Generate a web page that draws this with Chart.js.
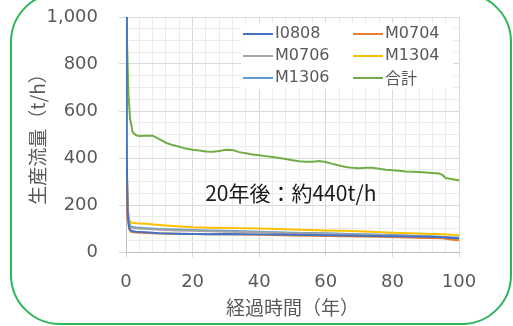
<!DOCTYPE html>
<html>
<head>
<meta charset="utf-8">
<script src="https://cdn.jsdelivr.net/npm/chart.js@4.4.1/dist/chart.umd.min.js"></script>
<style>
  html, body { margin: 0; padding: 0; background: #fff; overflow: hidden; }
  #wrap { position: relative; width: 513px; height: 326px; }
  #frame {
    position: absolute; left: 10px; top: -8px; width: 502px; height: 333px;
    box-sizing: border-box; border: 2px solid #2db75b; border-radius: 50px;
  }
  #myChart { position: absolute; left: 0; top: 0; }
</style>
</head>
<body>
<div id="wrap">
  <div id="frame"></div>
  <canvas id="myChart" width="513" height="326"></canvas>
</div>
<script>
// ===== Daten =====
const SERIES_NAMES = ['I0808', 'M0704', 'M0706', 'M1304', 'M1306', '合計'];
const SERIES_COLORS = ['#4472c4', '#ed7d31', '#a5a5a5', '#ffc000', '#5b9bd5', '#70ad47'];

// Jahre für die Einzelbrunnen
const years = [0, 0.2, 0.5, 1, 1.5, 3, 6, 10, 15, 20, 25, 30, 35, 40, 45, 50, 55, 60, 65, 70, 75, 80, 85, 90, 95, 98, 100];
const i0808 = [1200, 420, 160, 100, 90, 86, 84, 80, 78, 77, 76, 77, 76, 75, 74, 73, 72, 71, 70, 69, 68, 67, 66, 65, 63, 60, 58];
const m0704 = [450, 300, 140, 95, 86, 83, 81, 79, 78, 77, 76, 75, 74, 73, 72, 70, 69, 68, 67, 66, 65, 64, 62, 60, 58, 52, 50];
const m0706 = [700, 340, 170, 115, 103, 100, 98, 95, 92, 90, 88, 86, 85, 84, 82, 80, 79, 78, 76, 74, 72, 70, 68, 66, 63, 60, 58];
const m1304 = [600, 380, 190, 135, 125, 122, 120, 115, 110, 105, 103, 102, 101, 100, 98, 96, 94, 92, 90, 88, 85, 82, 80, 78, 76, 73, 72];
const m1306 = [1000, 400, 180, 120, 108, 104, 101, 98, 96, 94, 92, 90, 88, 86, 84, 82, 81, 80, 78, 76, 74, 72, 70, 68, 65, 62, 62];

// Summe (eigene Stützstellen)
const totalYears = [0, 0.3, 0.7, 1.2, 2, 3, 4, 6, 8, 10, 12, 14, 16, 18, 20, 22, 24, 26, 28, 30, 32, 34, 36, 38, 40, 42, 44, 46, 48, 50, 52, 54, 56, 58, 60, 62, 64, 66, 68, 70, 72, 74, 76, 78, 80, 82, 84, 86, 88, 90, 92, 94, 95, 96, 98, 100];
const total = [1400, 900, 680, 570, 510, 497, 494, 495, 495, 480, 465, 455, 448, 440, 435, 432, 428, 427, 430, 435, 434, 425, 420, 415, 412, 408, 404, 400, 396, 390, 386, 384, 384, 387, 383, 375, 368, 362, 358, 356, 358, 358, 354, 350, 348, 346, 343, 342, 340, 338, 336, 334, 328, 315, 310, 305];

const NOTE_TEXT = '20年後：約440t/h';
const NOTE_POS = { x: 49.5, y: 251 };

// ===== Helpers =====
function toPoints(xs, ys) {
  return xs.map((x, i) => ({ x: x, y: ys[i] }));
}

const seriesData = [
  toPoints(years, i0808),
  toPoints(years, m0704),
  toPoints(years, m0706),
  toPoints(years, m1304),
  toPoints(years, m1306),
  toPoints(totalYears, total)
];

const TICK_FONT = { family: 'DejaVu Sans', size: 18 };
const CJK = 'Noto Sans CJK JP';
const MAJOR = '#d9d9d9';
const MINOR = '#ebebeb';

// Legende im Plotbereich + Textnotiz
const innerLegend = {
  id: 'innerLegend',
  beforeDatasetsDraw(chart) {
    const ctx = chart.ctx;
    ctx.save();
    ctx.fillStyle = '#ffffff';
    ctx.fillRect(241, 23, 212, 66);
    ctx.textBaseline = 'middle';
    chart.data.datasets.forEach((ds, i) => {
      const col = i % 2, row = Math.floor(i / 2);
      const x0 = col === 0 ? 243 : 353;
      const y = 34 + row * 22;
      ctx.strokeStyle = ds.borderColor;
      ctx.lineWidth = 2;
      ctx.beginPath();
      ctx.moveTo(x0, y);
      ctx.lineTo(x0 + 30, y);
      ctx.stroke();
      ctx.fillStyle = '#595959';
      ctx.font = ds.label === '合計' ? '16px "' + CJK + '"' : '16px "DejaVu Sans"';
      ctx.fillText(ds.label, x0 + 32, y);
    });
    ctx.restore();
  },
  afterDatasetsDraw(chart) {
    const ctx = chart.ctx;
    const xs = chart.scales.x, ys = chart.scales.y;
    ctx.save();
    ctx.font = '21px "' + CJK + '"';
    ctx.fillStyle = '#1a1a1a';
    ctx.textAlign = 'center';
    ctx.textBaseline = 'middle';
    ctx.fillText(NOTE_TEXT, xs.getPixelForValue(NOTE_POS.x), ys.getPixelForValue(NOTE_POS.y));
    ctx.restore();
  }
};

new Chart(document.getElementById('myChart'), {
  type: 'line',
  data: {
    datasets: SERIES_NAMES.map((name, i) => ({
      label: name,
      data: seriesData[i],
      borderColor: SERIES_COLORS[i],
      backgroundColor: SERIES_COLORS[i],
      borderWidth: 2,
      pointRadius: 0,
      tension: 0,
      fill: false
    }))
  },
  options: {
    responsive: false,
    animation: false,
    layout: { padding: { top: 17, right: 54, left: 0, bottom: 0 } },
    plugins: {
      legend: { display: false },
      tooltip: { enabled: false }
    },
    scales: {
      x: {
        type: 'linear',
        min: 0,
        max: 100,
        afterFit: s => { s.height = 74; },
        ticks: {
          stepSize: 4,
          autoSkip: false,
          maxRotation: 0,
          padding: 15,
          color: '#595959',
          font: TICK_FONT,
          callback: v => (v % 20 === 0 ? v : '')
        },
        grid: {
          color: c => (c.tick && c.tick.value % 20 === 0 ? MAJOR : MINOR),
          tickColor: c => (c.tick && c.tick.value % 20 === 0 ? MAJOR : 'rgba(0,0,0,0)'),
          tickLength: 5
        },
        border: { color: '#bfbfbf' },
        title: {
          display: true,
          text: '経過時間（年）',
          color: '#595959',
          font: { family: CJK, size: 19 },
          padding: { top: 0, bottom: 7 }
        }
      },
      y: {
        min: 0,
        max: 1000,
        afterFit: s => { s.width = 126; s.paddingTop = 0; s.paddingBottom = 0; },
        ticks: {
          stepSize: 50,
          autoSkip: false,
          padding: 21,
          color: '#595959',
          font: TICK_FONT,
          callback: v => (v % 200 === 0 ? v.toLocaleString('en-US') : '')
        },
        grid: {
          color: c => (c.tick && c.tick.value % 200 === 0 ? MAJOR : MINOR),
          tickColor: c => (c.tick && c.tick.value % 200 === 0 ? MAJOR : 'rgba(0,0,0,0)'),
          tickLength: 7
        },
        border: { color: '#bfbfbf' },
        title: {
          display: true,
          text: '生産流量（t/h）',
          color: '#595959',
          font: { family: CJK, size: 19 },
          padding: { top: 26, bottom: 0 }
        }
      }
    }
  },
  plugins: [innerLegend]
});
</script>
</body>
</html>
